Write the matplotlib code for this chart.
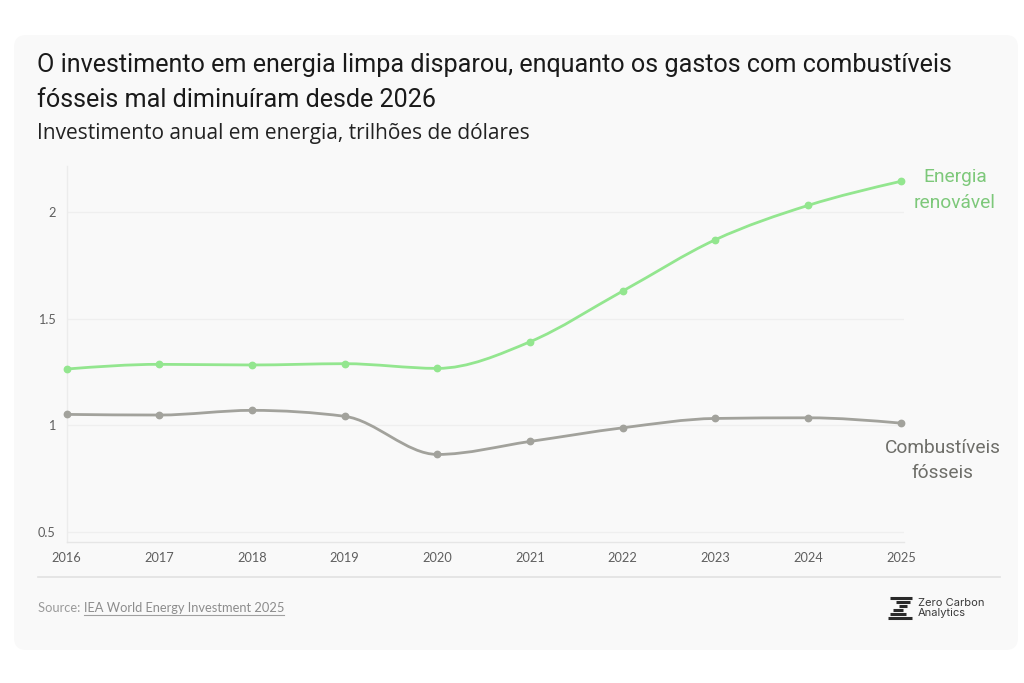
import matplotlib
matplotlib.use("Agg")
import matplotlib.pyplot as plt
import numpy as np
from matplotlib.patches import FancyBboxPatch
from matplotlib.path import Path
from matplotlib.patches import PathPatch
from matplotlib.lines import Line2D

# ---------------- data ----------------
years = [2016, 2017, 2018, 2019, 2020, 2021, 2022, 2023, 2024, 2025]
renewable = [1.263, 1.285, 1.282, 1.288, 1.266, 1.391, 1.629, 1.870, 2.031, 2.144]
fossil = [1.050, 1.047, 1.069, 1.041, 0.862, 0.923, 0.987, 1.031, 1.034, 1.009]
y_ticks = [0.5, 1, 1.5, 2]
y_tick_labels = ["0.5", "1", "1.5", "2"]
title_lines = ["O investimento em energia limpa disparou, enquanto os gastos com combustíveis",
               "fósseis mal diminuíram desde 2026"]
subtitle = "Investimento anual em energia, trilhões de dólares"
label_renewable = "Energia\nrenovável"
label_fossil = "Combustíveis\nfósseis"
source_prefix = "Source: "
source_link = "IEA World Energy Investment 2025"
logo_text = "Zero Carbon\nAnalytics"

GREEN = "#93e68f"
GREEN_TXT = "#7dc87a"
GRAY = "#a2a29c"
GRAY_TXT = "#6e6e69"

W, H = 1024, 683
fig = plt.figure(figsize=(W / 100, H / 100), dpi=100)
fig.patch.set_facecolor("white")


def fx(px):
    return px / W


def fy(py):
    return 1 - py / H


# card
card = FancyBboxPatch((fx(14), fy(650)), fx(1018) - fx(14), fy(35) - fy(650),
                      boxstyle="round,pad=0,rounding_size=0.012",
                      transform=fig.transFigure, facecolor="#f9f9f9",
                      edgecolor="none", zorder=-5, mutation_aspect=W / H)
fig.patches.append(card)


def monotone_path(xs, ys):
    xs = np.asarray(xs, float)
    ys = np.asarray(ys, float)
    n = len(xs)
    t = np.zeros(n)
    for i in range(1, n - 1):
        h0 = xs[i] - xs[i - 1]
        h1 = xs[i + 1] - xs[i]
        s0 = (ys[i] - ys[i - 1]) / h0
        s1 = (ys[i + 1] - ys[i]) / h1
        p = (s0 * h1 + s1 * h0) / (h0 + h1)
        t[i] = (np.sign(s0) + np.sign(s1)) * min(abs(s0), abs(s1), 0.5 * abs(p))
    h = xs[1] - xs[0]
    t[0] = (3 * (ys[1] - ys[0]) / h - t[1]) / 2
    h = xs[-1] - xs[-2]
    t[-1] = (3 * (ys[-1] - ys[-2]) / h - t[-2]) / 2
    verts = [(xs[0], ys[0])]
    codes = [Path.MOVETO]
    for i in range(n - 1):
        dx = (xs[i + 1] - xs[i]) / 3
        verts += [(xs[i] + dx, ys[i] + dx * t[i]),
                  (xs[i + 1] - dx, ys[i + 1] - dx * t[i + 1]),
                  (xs[i + 1], ys[i + 1])]
        codes += [Path.CURVE4] * 3
    return Path(verts, codes)


ax = fig.add_axes([fx(66.7), fy(542), fx(904) - fx(66.7), fy(166) - fy(542)])
ax.set_facecolor("none")
ax.set_xlim(2016, 2025.035)
ax.set_ylim(0.451, 2.216)

for yt in y_ticks:
    ax.axhline(yt, color="#efefef", lw=1, zorder=0)

for vals, col in [(renewable, GREEN), (fossil, GRAY)]:
    ax.add_patch(PathPatch(monotone_path(years, vals), facecolor="none",
                           edgecolor=col, lw=2.0, zorder=3, capstyle="round"))
    ax.plot(years, vals, "o", color=col, ms=4.6, zorder=4, clip_on=False)

for s in ["top", "right"]:
    ax.spines[s].set_visible(False)
ax.spines["left"].set_color("#ececec")
ax.spines["bottom"].set_color("#e6e6e6")
ax.spines["left"].set_linewidth(1)
ax.spines["bottom"].set_linewidth(1)

ax.set_yticks(y_ticks)
ax.set_yticklabels(y_tick_labels)
ax.set_xticks(years)
ax.set_xticklabels([str(y) for y in years])
ax.tick_params(axis="both", length=0, labelsize=9.2, labelcolor="#5f5f5f")
ax.tick_params(axis="y", pad=8)
ax.tick_params(axis="x", pad=7)
for lab in ax.get_xticklabels() + ax.get_yticklabels():
    lab.set_family(["Lato", "DejaVu Sans"])

narrow = ["Roboto", "DejaVu Sans"]
ax.annotate(label_renewable, xy=(years[-1], renewable[-1]), xytext=(39, -6),
            textcoords="offset points", ha="center", va="center",
            fontsize=13.8, color=GREEN_TXT, family=narrow, linespacing=1.55,
            annotation_clip=False)
ax.annotate(label_fossil, xy=(years[-1], fossil[-1]), xytext=(30, -27),
            textcoords="offset points", ha="center", va="center",
            fontsize=13.8, color=GRAY_TXT, family=narrow, linespacing=1.45,
            annotation_clip=False)

# titles
fig.canvas.draw()
r = fig.canvas.get_renderer()


def fit_text(x, y, s, target_right, size0, **kw):
    t = fig.text(fx(x), fy(y), s, fontsize=size0, **kw)
    bb = t.get_window_extent(r)
    t.set_fontsize(size0 * (target_right - x) / bb.width)
    return t


fit_text(37, 65, title_lines[0], 955, 15, color="#1a1a1a",
         family=["Roboto", "DejaVu Sans"], va="center", ha="left")
fit_text(37, 100, title_lines[1], 437, 15, color="#1a1a1a",
         family=["Roboto", "DejaVu Sans"], va="center", ha="left")
fit_text(37, 134, subtitle, 527, 12, color="#222222",
         family=["Open Sans", "DejaVu Sans"], va="center", ha="left")

# separator
fig.add_artist(Line2D([fx(38), fx(1000)], [fy(577), fy(577)], transform=fig.transFigure,
                      color="#e2e2e2", lw=1.2))

# source
t1 = fig.text(fx(38), fy(608), source_prefix, fontsize=9.3, color="#9a9a9a",
              family=["Lato", "DejaVu Sans"], va="center", ha="left")
bb = t1.get_window_extent(r)
t2 = fig.text(bb.x1 / W, fy(608), source_link, fontsize=9.3, color="#8c8c8c",
              family=["Lato", "DejaVu Sans"], va="center", ha="left")
bb2 = t2.get_window_extent(r)
fig.add_artist(Line2D([bb2.x0 / W, bb2.x1 / W], [(bb2.y0 - 1) / H, (bb2.y0 - 1) / H],
                      transform=fig.transFigure, color="#a0a0a0", lw=0.8))

# logo
fig.text(fx(918), fy(608), logo_text, fontsize=8.0, color="#3a3a3a",
         family=["Inter", "DejaVu Sans"], va="center", ha="left", linespacing=0.95)
bars = [(890, 912, 598), (896, 910, 602), (899, 907, 606), (893, 903, 610),
        (890, 906, 614), (888, 912, 618)]
for x0, x1, yy in bars:
    fig.add_artist(Line2D([fx(x0), fx(x1)], [fy(yy), fy(yy)], transform=fig.transFigure,
                          color="#2a2a2a", lw=2.2, solid_capstyle="butt"))

fig.savefig("out.png", dpi=100, facecolor="white")
